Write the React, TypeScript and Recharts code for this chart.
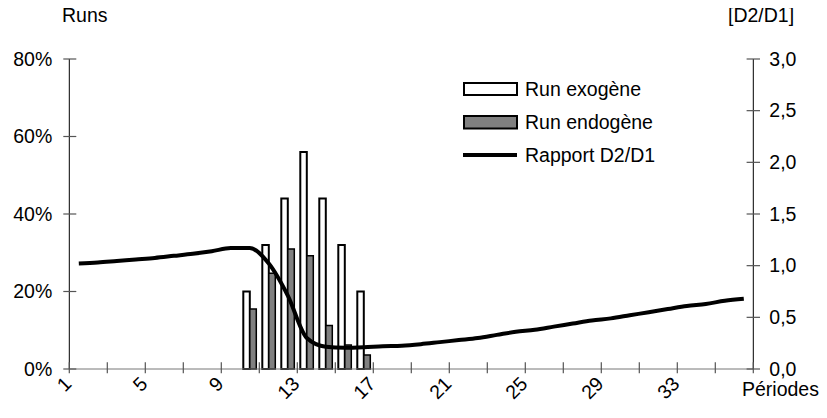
import React from "react";
import { ComposedChart, Bar, Line, XAxis, YAxis, Legend } from "recharts";

const periodes = [
  1, 2, 3, 4, 5, 6, 7, 8, 9, 10, 11, 12, 13, 14, 15, 16, 17, 18,
  19, 20, 21, 22, 23, 24, 25, 26, 27, 28, 29, 30, 31, 32, 33, 34, 35, 36,
];

// % of runs (left axis)
const runExogene = [
  null, null, null, null, null, null, null, null, null,
  20, 32, 44, 56, 44, 32, 20,
  null, null, null, null, null, null, null, null, null, null,
  null, null, null, null, null, null, null, null, null, null,
];
const runEndogene = [
  null, null, null, null, null, null, null, null, null,
  15.5, 24.7, 31, 29.2, 11.2, 6.2, 3.6,
  null, null, null, null, null, null, null, null, null, null,
  null, null, null, null, null, null, null, null, null, null,
];

// D2/D1 (right axis)
const rapport = [
  1.02, 1.03, 1.045, 1.06, 1.075, 1.095, 1.115, 1.14, 1.17, 1.17,
  1.02, 0.71, 0.3, 0.215, 0.205, 0.21, 0.22,
  0.225, 0.24, 0.26, 0.28, 0.3, 0.33, 0.36, 0.38, 0.41, 0.44, 0.47,
  0.49, 0.52, 0.55, 0.58, 0.61, 0.63, 0.66, 0.68,
];

const labelPeriodes = [1, 5, 9, 13, 17, 21, 25, 29, 33];
const leftTicks = [0, 20, 40, 60, 80];
const rightTicks = [0, 0.5, 1, 1.5, 2, 2.5, 3];

const data = periodes.map((p, i) => ({
  periode: p,
  exo: runExogene[i],
  endo: runEndogene[i],
  rapport: rapport[i],
}));

const W = 819;
const H = 402;
const TOP = 51;
const LEFT_W = 61.3;
const RIGHT_W = 73.7;
const BOTTOM_H = 41;
const PLOT_W = W - LEFT_W - RIGHT_W;
const AXIS_Y = H - BOTTOM_H;
const BAND = PLOT_W / periodes.length;
const FONT = "'Liberation Sans', Arial, sans-serif";
const FS = 19.5;
const TICK = "#555";

// category boundaries where Excel drew its tick marks (every 2nd period)
const boundaryMarks = [0, ...periodes.filter((p) => p % 2 === 0)].map((p) => LEFT_W + p * BAND);

function XTick(props: any) {
  const x = Number(props.x);
  const y = Number(props.y);
  const p = Number(props.payload?.value);
  if (!labelPeriodes.includes(p)) return <g />;
  const ax = x - 6;
  const ay = y + 16;
  return (
    <text
      x={ax}
      y={ay}
      transform={`rotate(-45 ${ax} ${ay})`}
      textAnchor="end"
      fontSize={FS}
      fontFamily={FONT}
      fill="#000"
    >
      {p}
    </text>
  );
}

function LeftTick(props: any) {
  const { x, y, payload } = props;
  return (
    <g>
      <path d={`M${x - 6},${y}L${x + 7},${y}`} stroke={TICK} strokeWidth={1.2} fill="none" />
      <text x={x - 17} y={y} dy="0.35em" textAnchor="end" fontSize={FS} fontFamily={FONT} fill="#000">
        {payload.value}%
      </text>
    </g>
  );
}

function RightTick(props: any) {
  const { x, y, payload } = props;
  return (
    <g>
      <path d={`M${x - 6.7},${y}L${x + 6.7},${y}`} stroke={TICK} strokeWidth={1.2} fill="none" />
      <text x={x + 16} y={y} dy="0.35em" textAnchor="start" fontSize={FS} fontFamily={FONT} fill="#000">
        {payload.value.toFixed(1).replace(".", ",")}
      </text>
    </g>
  );
}

const renderLegend = () => (
  <svg width={230} height={92} style={{ display: "block" }}>
    <rect x={1} y={5} width={53} height={12} fill="#fff" stroke="#000" strokeWidth={2} />
    <text x={62} y={11} dy="0.35em" fontSize={FS} fontFamily={FONT}>Run exogène</text>
    <rect x={1} y={38} width={53} height={12.5} fill="#808080" stroke="#000" strokeWidth={2} />
    <text x={62} y={44} dy="0.35em" fontSize={FS} fontFamily={FONT}>Run endogène</text>
    <line x1={0} x2={54} y1={77} y2={77} stroke="#000" strokeWidth={4} />
    <text x={62} y={77} dy="0.35em" fontSize={FS} fontFamily={FONT}>Rapport D2/D1</text>
  </svg>
);

export default function App() {
  return (
    <div style={{ position: "relative", width: W, height: H, fontFamily: FONT }}>
      <ComposedChart
        width={W}
        height={H}
        data={data}
        margin={{ top: TOP, right: 0, bottom: 0, left: 0 }}
        barGap={0}
      >
        <XAxis
          dataKey="periode"
          interval={0}
          height={BOTTOM_H}
          tickSize={0}
          tickMargin={0}
          tick={XTick}
          axisLine={{ stroke: "#777" }}
          tickLine={false}
        />
        <YAxis
          yAxisId="left"
          width={LEFT_W}
          domain={[0, 80]}
          ticks={leftTicks}
          tickSize={0}
          tickMargin={0}
          tick={LeftTick}
          tickLine={false}
          axisLine={{ stroke: "#000" }}
        />
        <YAxis
          yAxisId="right"
          orientation="right"
          width={RIGHT_W}
          domain={[0, 3]}
          ticks={rightTicks}
          tickSize={0}
          tickMargin={0}
          tick={RightTick}
          tickLine={false}
          axisLine={{ stroke: "#000" }}
        />
        <Legend
          layout="vertical"
          align="center"
          verticalAlign="middle"
          content={renderLegend}
          wrapperStyle={{ left: 455, top: 70, width: 230, height: 92 }}
        />
        <Bar
          yAxisId="left"
          dataKey="exo"
          name="Run exogène"
          barSize={6.5}
          fill="#fff"
          stroke="#000"
          strokeWidth={2}
          isAnimationActive={false}
        />
        <Bar
          yAxisId="left"
          dataKey="endo"
          name="Run endogène"
          barSize={6.5}
          fill="#808080"
          stroke="#000"
          strokeWidth={1.5}
          isAnimationActive={false}
        />
        <Line
          yAxisId="right"
          dataKey="rapport"
          name="Rapport D2/D1"
          type="monotone"
          stroke="#000"
          strokeWidth={4}
          dot={false}
          activeDot={false}
          isAnimationActive={false}
        />
      </ComposedChart>
      {/* axis titles and x tick marks */}
      <svg
        width={W}
        height={H}
        style={{ position: "absolute", left: 0, top: 0, overflow: "visible", pointerEvents: "none" }}
      >
        {boundaryMarks.map((mx, i) => (
          <path
            key={i}
            d={`M${mx},${AXIS_Y - 6.7}L${mx},${AXIS_Y + 4.3}`}
            stroke={TICK}
            strokeWidth={1.2}
            fill="none"
          />
        ))}
        <text x={54} y={14} fontSize={FS} fontFamily={FONT}>Runs</text>
        <text x={720} y={14} fontSize={FS} fontFamily={FONT}>[D2/D1]</text>
        <text x={734} y={388} fontSize={FS} fontFamily={FONT}>Périodes</text>
      </svg>
    </div>
  );
}
